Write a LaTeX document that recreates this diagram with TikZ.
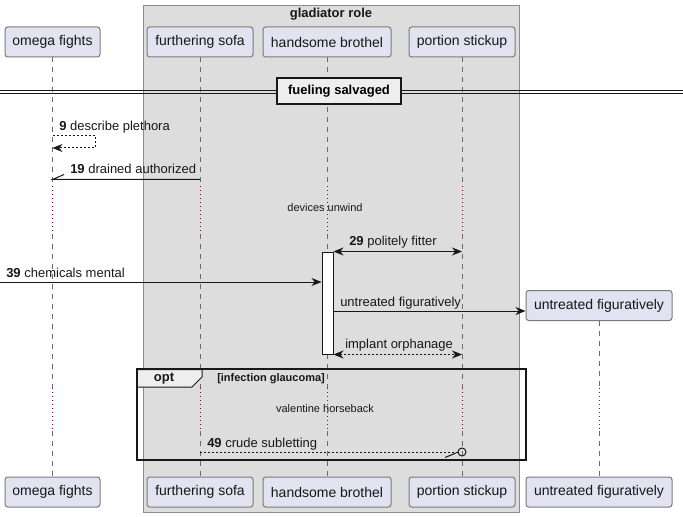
\documentclass[tikz,border=0pt]{standalone}
\usepackage{fontspec}
\setmainfont{Liberation Sans}
\usetikzlibrary{arrows.meta}
\definecolor{partfill}{HTML}{E2E2F0}
\definecolor{partline}{HTML}{7A7A7A}
\definecolor{boxfill}{HTML}{DDDDDD}
\definecolor{boxline}{HTML}{8C8C8C}
\definecolor{lifec}{HTML}{6A6A6A}
\definecolor{delayc}{HTML}{B0003A}
\definecolor{divfill}{HTML}{EEEEEE}
\definecolor{ink}{HTML}{181818}
\tikzset{
  part/.style={draw=partline, fill=partfill, rounded corners=2pt, line width=0.75pt,
    minimum height=22.5pt, inner sep=0pt, text=ink, font=\fontsize{10.5}{12}\selectfont},
  life/.style={draw=lifec, line width=0.6pt, dash pattern=on 3.75pt off 3.75pt},
  delayline/.style={draw=delayc, line width=0.75pt, dash pattern=on 0.75pt off 2.25pt},
  msg/.style={draw=ink, line width=0.75pt},
  tip/.style={-{Stealth[length=7.5pt,width=6pt,inset=2.4pt]}},
  bothtips/.style={{Stealth[length=7.5pt,width=6pt,inset=2.4pt]}-{Stealth[length=7.5pt,width=6pt,inset=2.4pt]}},
  dsh/.style={dash pattern=on 1.5pt off 1.5pt},
  lbl/.style={anchor=base west, inner sep=0pt, text=ink, font=\fontsize{9.75}{11}\selectfont},
  dlbl/.style={inner sep=0pt, text=ink, font=\fontsize{8.25}{10}\selectfont},
  boldlbl/.style={inner sep=0pt, text=ink, font=\bfseries\fontsize{9.75}{11}\selectfont},
  actbox/.style={draw=ink, fill=white, line width=0.75pt, minimum width=8.25pt, minimum height=76.5pt, inner sep=0pt},
  divbox/.style={draw=ink, fill=divfill, line width=1.5pt, minimum width=93pt, minimum height=19.5pt, inner sep=0pt, font=\bfseries\fontsize{9.75}{11}\selectfont},
  framestyle/.style={draw=ink, line width=1.5pt},
}
\begin{document}
\begin{tikzpicture}[x=0.75pt,y=-0.75pt]
\useasboundingbox (0,0) rectangle (683,517);
% group box
\draw[draw=boxline, fill=boxfill, line width=0.75pt] (143,6) rectangle (519.5,512);
\node[boldlbl] (boxtitle) at (331,14) {gladiator role};
% delay rows
\coordinate (d1) at (0,186);
\coordinate (d2) at (0,234);
\coordinate (d3) at (0,388);
\coordinate (d4) at (0,431);
% participants
\node[part, minimum width=71.25pt] (om-t) at (52.5,42) {omega fights};
\node[part, minimum width=79.5pt] (fs-t) at (200,42) {furthering sofa};
\node[part, minimum width=96pt] (hb-t) at (327,42) {handsome brothel};
\node[part, minimum width=79.5pt] (ps-t) at (462,42) {portion stickup};
\node[part, minimum width=71.25pt] (om-b) at (52.5,492) {omega fights};
\node[part, minimum width=79.5pt] (fs-b) at (200,492) {furthering sofa};
\node[part, minimum width=96pt] (hb-b) at (327,492) {handsome brothel};
\node[part, minimum width=79.5pt] (ps-b) at (462,492) {portion stickup};
\node[part, minimum width=109.5pt] (uf-t) at (599,305.5) {untreated figuratively};
\node[part, minimum width=109.5pt] (uf-b) at (599,492) {untreated figuratively};
% lifelines
\foreach \p in {om,fs,hb,ps}{
  \draw[life] (\p-t.south) -- (\p-t.south |- d1);
  \draw[delayline] (\p-t.south |- d1) -- (\p-t.south |- d2);
  \draw[life] (\p-t.south |- d2) -- (\p-t.south |- d3);
  \draw[delayline] (\p-t.south |- d3) -- (\p-t.south |- d4);
  \draw[life] (\p-t.south |- d4) -- (\p-b.north);
}
\draw[life] (uf-t.south) -- (uf-t.south |- d3);
\draw[delayline] (uf-t.south |- d3) -- (uf-t.south |- d4);
\draw[life] (uf-t.south |- d4) -- (uf-b.north);
% divider
\coordinate (dvl) at (0,90.5);
\coordinate (dvr) at (683,90.5);
\coordinate (dvl2) at (0,93.5);
\coordinate (dvr2) at (683,93.5);
\draw[draw=ink, line width=0.9pt] (dvl) -- (dvr);
\draw[draw=ink, line width=0.9pt] (dvl2) -- (dvr2);
\node[divbox] (div) at (339,91) {fueling salvaged};
% message 9 (self)
\coordinate (m9a) at (52.5,136);
\coordinate (m9b) at (95,136);
\coordinate (m9c) at (95,148);
\coordinate (m9d) at (52.5,148);
\draw[msg, dsh, tip] (m9a) -- (m9b) -- (m9c) -- (m9d);
\node[lbl] (l9) at (59,131) {\textbf{9} describe plethora};
% message 19
\coordinate (m19a) at (fs-t.south |- 0,179.5);
\coordinate (m19b) at (om-t.south |- 0,179.5);
\coordinate (m19c) at (64,174.5);
\draw[msg] (m19a) -- (m19b) -- (m19c);
\node[lbl] (l19) at (70,174) {\textbf{19} drained authorized};
% delay 1
\node[dlbl] (dl1) at (325,208) {devices unwind};
% activation
\node[actbox] (act) at (327.5,303) {};
% message 29
\coordinate (m29a) at (act.north east);
\coordinate (m29b) at (ps-t.south |- m29a);
\draw[msg, bothtips] (m29a) -- (m29b);
\node[lbl] (l29) at (349,246) {\textbf{29} politely fitter};
% message 39
\coordinate (m39a) at (0,282);
\draw[msg, tip] (m39a) -- (act.west |- m39a);
\node[lbl] (l39) at (6,277) {\textbf{39} chemicals mental};
% create message
\coordinate (m40y) at (0,311);
\coordinate (m40a) at (act.east |- m40y);
\coordinate (m40b) at (uf-t.west |- m40y);
\draw[msg, tip] (m40a) -- (m40b);
\node[lbl] (l40) at (340,306) {untreated figuratively};
% implant orphanage
\coordinate (m41a) at (act.south east);
\coordinate (m41b) at (ps-t.south |- m41a);
\draw[msg, dsh, bothtips] (m41a) -- (m41b);
\node[lbl] (l41) at (345,349) {implant orphanage};
% opt frame
\coordinate (of1) at (137,369);
\coordinate (of2) at (526,460);
\draw[draw=ink, fill=divfill, line width=0.75pt] (137,369.5) -- (202,369.5) -- (202,377) -- (192,387) -- (137,387) -- cycle;
\draw[framestyle] (of1) rectangle (of2);
\node[boldlbl] (optl) at (164,379) {opt};
\node[anchor=west, inner sep=0pt, text=ink, font=\bfseries\fontsize{8.25}{10}\selectfont] (guard) at (217,379) {[infection glaucoma]};
% delay 2
\node[dlbl] (dl2) at (325,409) {valentine horseback};
% message 49
\coordinate (m49a) at (fs-t.south |- 0,452);
\coordinate (m49c) at (ps-t.south |- m49a);
\node[circle, draw=ink, line width=0.75pt, minimum size=6pt, inner sep=0pt] (circ) at (m49c) {};
\draw[msg, dsh] (m49a) -- (circ.west);
\coordinate (s49a) at (445,457.5);
\coordinate (s49b) at (456,453);
\draw[msg] (s49a) -- (s49b);
\node[lbl] (l49) at (207,447) {\textbf{49} crude subletting};
\end{tikzpicture}
\end{document}
